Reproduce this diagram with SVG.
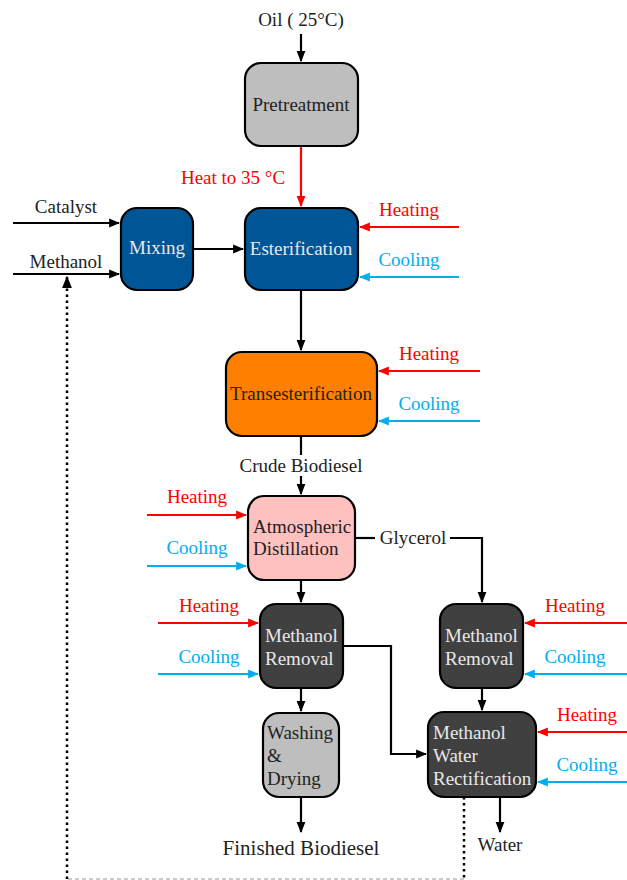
<svg xmlns="http://www.w3.org/2000/svg" width="627" height="880" viewBox="0 0 627 880" font-family="'Liberation Serif', 'DejaVu Serif', serif">
<style>
text{font-size:19px;fill:#222}
.c{text-anchor:middle}
.box{stroke:#000;stroke-width:2.2}
.lt{fill:#e8e8e8}
.red{fill:#ff0000}
.cyan{fill:#00aeef}
.k{stroke:#000;stroke-width:2.2;fill:none}
.r{stroke:#ff0000;stroke-width:2.2;fill:none}
.b{stroke:#00aeef;stroke-width:2.2;fill:none}
</style>
<defs>
<marker id="ak" viewBox="0 0 10 10" refX="9" refY="5" markerWidth="5" markerHeight="5" orient="auto" markerUnits="strokeWidth"><path d="M0,1 L10,5 L0,9 z" fill="#000"/></marker>
<marker id="ar" viewBox="0 0 10 10" refX="9" refY="5" markerWidth="5" markerHeight="5" orient="auto" markerUnits="strokeWidth"><path d="M0,1 L10,5 L0,9 z" fill="#ff0000"/></marker>
<marker id="ab" viewBox="0 0 10 10" refX="9" refY="5" markerWidth="5" markerHeight="5" orient="auto" markerUnits="strokeWidth"><path d="M0,1 L10,5 L0,9 z" fill="#00aeef"/></marker>
</defs>
<g id="connectors">
<path class="k" d="M301,34 V61" marker-end="url(#ak)"/>
<path class="r" d="M301,146 V206" marker-end="url(#ar)"/>
<path class="k" d="M13,223 H119" marker-end="url(#ak)"/>
<path class="k" d="M13,274 H119" marker-end="url(#ak)"/>
<path class="k" d="M193,249 H243" marker-end="url(#ak)"/>
<path class="r" d="M459,227 H360" marker-end="url(#ar)"/>
<path class="b" d="M459,277 H360" marker-end="url(#ab)"/>
<path class="k" d="M301,290 V350" marker-end="url(#ak)"/>
<path class="r" d="M480,371 H379" marker-end="url(#ar)"/>
<path class="b" d="M480,421 H379" marker-end="url(#ab)"/>
<path class="k" d="M301,436 V455"/>
<path class="k" d="M301,476 V494" marker-end="url(#ak)"/>
<path class="r" d="M147,515 H246" marker-end="url(#ar)"/>
<path class="b" d="M147,566 H246" marker-end="url(#ab)"/>
<path class="k" d="M355,538 H375"/>
<path class="k" d="M450,538 H482 V602" marker-end="url(#ak)"/>
<path class="k" d="M301,580 V602" marker-end="url(#ak)"/>
<path class="r" d="M158,623 H258" marker-end="url(#ar)"/>
<path class="b" d="M158,674 H258" marker-end="url(#ab)"/>
<path class="r" d="M627,623 H525" marker-end="url(#ar)"/>
<path class="b" d="M627,674 H525" marker-end="url(#ab)"/>
<path class="k" d="M343,646 H391 V754 H426" marker-end="url(#ak)"/>
<path class="k" d="M301,688 V711" marker-end="url(#ak)"/>
<path class="k" d="M482,688 V710" marker-end="url(#ak)"/>
<path class="r" d="M627,732 H538" marker-end="url(#ar)"/>
<path class="b" d="M627,782 H538" marker-end="url(#ab)"/>
<path class="k" d="M301,797 V832" marker-end="url(#ak)"/>
<path class="k" d="M500,797 V832" marker-end="url(#ak)"/>
<path d="M464,797 V879" stroke="#000" stroke-width="2.5" stroke-dasharray="2.5,3.5" fill="none"/>
<path d="M464,879 H67" stroke="#999" stroke-width="1" stroke-dasharray="4,3" fill="none"/>
<path d="M67,879 V277" stroke="#000" stroke-width="2.5" stroke-dasharray="2.5,3.5" fill="none" marker-end="url(#ak)"/>
</g>
<g id="labels">
<text x="301" y="26" class="c">Oil ( 25°C)</text>
<text x="233" y="184" class="c red">Heat to 35 °C</text>
<text x="66" y="213" class="c">Catalyst</text>
<text x="66" y="268" class="c">Methanol</text>
<text x="409" y="216" class="c red">Heating</text>
<text x="409" y="266" class="c cyan">Cooling</text>
<text x="429" y="360" class="c red">Heating</text>
<text x="429" y="410" class="c cyan">Cooling</text>
<text x="301" y="472" class="c">Crude Biodiesel</text>
<text x="197" y="503" class="c red">Heating</text>
<text x="197" y="554" class="c cyan">Cooling</text>
<text x="413" y="544" class="c">Glycerol</text>
<text x="209" y="612" class="c red">Heating</text>
<text x="209" y="663" class="c cyan">Cooling</text>
<text x="575" y="612" class="c red">Heating</text>
<text x="575" y="663" class="c cyan">Cooling</text>
<text x="587" y="721" class="c red">Heating</text>
<text x="587" y="771" class="c cyan">Cooling</text>
<text x="301" y="855" class="c" style="font-size:21px">Finished Biodiesel</text>
<text x="500" y="851" class="c">Water</text>
</g>
<g id="pretreatment">
<rect class="box" x="245" y="63" width="113" height="83" rx="16" fill="#bebebe"/>
<text x="301" y="111" class="c">Pretreatment</text>
</g>
<g id="mixing">
<rect class="box" x="121" y="208" width="72" height="82" rx="16" fill="#005596"/>
<text x="157" y="254" class="c lt">Mixing</text>
</g>
<g id="esterification">
<rect class="box" x="245" y="208" width="113" height="82" rx="16" fill="#005596"/>
<text x="301" y="255" class="c lt">Esterification</text>
</g>
<g id="transesterification">
<rect class="box" x="226" y="352" width="151" height="84" rx="16" fill="#ff8000"/>
<text x="301" y="400" class="c">Transesterification</text>
</g>
<g id="atmospheric-distillation">
<rect class="box" x="248" y="496" width="107" height="84" rx="16" fill="#ffc0c0"/>
<text x="253" y="533">Atmospheric</text>
<text x="253" y="555">Distillation</text>
</g>
<g id="methanol-removal-1">
<rect class="box" x="260" y="604" width="83" height="84" rx="16" fill="#404040"/>
<text x="265" y="642" class="lt">Methanol</text>
<text x="265" y="665" class="lt">Removal</text>
</g>
<g id="methanol-removal-2">
<rect class="box" x="440" y="604" width="83" height="84" rx="16" fill="#404040"/>
<text x="445" y="642" class="lt">Methanol</text>
<text x="445" y="665" class="lt">Removal</text>
</g>
<g id="washing-drying">
<rect class="box" x="263" y="713" width="76" height="84" rx="16" fill="#bebebe"/>
<text x="267" y="739">Washing</text>
<text x="267" y="762">&amp;</text>
<text x="267" y="785">Drying</text>
</g>
<g id="methanol-water-rectification">
<rect class="box" x="428" y="712" width="108" height="85" rx="16" fill="#404040"/>
<text x="433" y="739" class="lt">Methanol</text>
<text x="433" y="762" class="lt">Water</text>
<text x="433" y="785" class="lt">Rectification</text>
</g>
</svg>
